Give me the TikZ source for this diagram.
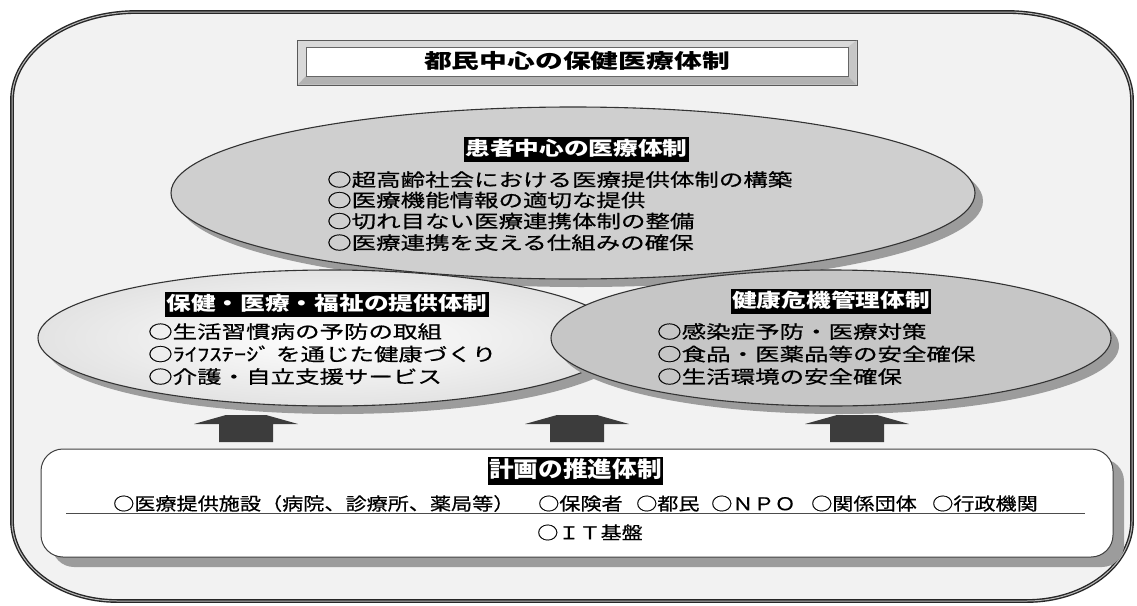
\documentclass[tikz,border=0pt]{standalone}
\usepackage{fontspec}
\newfontfamily\titlefont[FakeStretch=1.39]{Noto Sans CJK JP}
\newfontfamily\listfont[FakeStretch=1.36,FakeBold=0.6]{Noto Sans CJK JP}
\newfontfamily\headfont[FakeStretch=1.3]{Noto Sans CJK JP}
\newfontfamily\bhfont[FakeStretch=1.12]{Noto Sans CJK JP}
\newfontfamily\botfont[FakeStretch=1.2,FakeBold=0.5]{Noto Sans CJK JP}
\definecolor{framebg}{HTML}{F2F2F2}
\definecolor{topfill}{HTML}{CFCFCF}
\definecolor{rightfill}{HTML}{C6C6C6}
\definecolor{shadowc}{HTML}{9C9C9C}
\definecolor{arrowc}{HTML}{3C3C3C}
\begin{document}
\begin{tikzpicture}[x=1pt,y=-1pt,
  listtxt/.style={anchor=west,inner sep=0pt,text height=14.4pt,text depth=3.6pt,font=\listfont\fontsize{18}{21}\selectfont},
  bottxt/.style={anchor=west,inner sep=0pt,text height=14pt,text depth=3.6pt,font=\botfont\fontsize{17.6}{21}\selectfont},
  headbox/.style={fill=black,text=white,inner xsep=1pt,inner ysep=0pt,minimum height=25pt,text height=15.5pt,text depth=3.5pt,font=\headfont\bfseries\fontsize{19}{21}\selectfont},
  ellborder/.style={draw=black!80,line width=1.1pt},
  shadowfill/.style={fill=shadowc},
  uparrow/.style={fill=arrowc,draw=none}
]
\useasboundingbox (0,0) rectangle (1137,605);
% outer frame
\path[fill=framebg,draw=black!85,line width=1.4pt,double=gray!55,double distance=1pt]
  (12,100) .. controls (12,51.4) and (68,12) .. (137,12)
  -- (1007,12) .. controls (1076,12) and (1132,51.4) .. (1132,100)
  -- (1132,521) .. controls (1132,565.2) and (1085,601) .. (1027,601)
  -- (117,601) .. controls (59,601) and (12,565.2) .. (12,521) -- cycle;
% title box
\path[fill=gray!30,draw=black!65,line width=0.8pt] (297,40) rectangle (857,85);
\path[fill=gray!60] (298,84.5) -- (856.5,84.5) -- (848,76) -- (306,76) -- cycle;
\path[fill=gray!45] (856.5,40.5) -- (856.5,84.5) -- (848,76) -- (848,47) -- cycle;
\path[fill=white,draw=black!60,line width=0.7pt] (306,47) rectangle (848,76);
\node[inner sep=0pt,text height=16pt,text depth=4pt,font=\titlefont\bfseries\fontsize{20}{22}\selectfont] (title) at (577,62) {都民中心の保健医療体制};
% top ellipse
\path[shadowfill] (581,201) ellipse [x radius=402, y radius=86];
\path[fill=topfill,ellborder] (573,193) ellipse [x radius=402, y radius=86];
% left ellipse
\path[shadowfill] (338,346) ellipse [x radius=292, y radius=68];
\path[inner color=white,outer color=gray!22,ellborder] (330,338) ellipse [x radius=292, y radius=68];
% right ellipse
\path[shadowfill] (839,346) ellipse [x radius=280, y radius=68];
\path[fill=rightfill,ellborder] (831,338) ellipse [x radius=280, y radius=68];
% top texts
\node[headbox] (tophead) at (576.5,149.5) {患者中心の医療体制};
\node[listtxt] (t1) at (327,181) {○超高齢社会における医療提供体制の構築};
\node[listtxt] (t2) at (327,201.5) {○医療機能情報の適切な提供};
\node[listtxt] (t3) at (327,222.5) {○切れ目ない医療連携体制の整備};
\node[listtxt] (t4) at (327,244) {○医療連携を支える仕組みの確保};
% left texts
\node[headbox] (lefthead) at (327,304) {保健・医療・福祉の提供体制};
\node[listtxt] (l1) at (148,333) {○生活習慣病の予防の取組};
\node[listtxt] (l2) at (148,355.5) {○ﾗｲﾌｽﾃｰｼﾞ を通じた健康づくり};
\node[listtxt] (l3) at (148,378) {○介護・自立支援サービス};
% right texts
\node[headbox] (righthead) at (831,301) {健康危機管理体制};
\node[listtxt] (r1) at (657,333) {○感染症予防・医療対策};
\node[listtxt] (r2) at (657,355.5) {○食品・医薬品等の安全確保};
\node[listtxt] (r3) at (657,378) {○生活環境の安全確保};
% arrows
\foreach \cx in {246,577,857}{
  \path[uparrow] (\cx-52,424) -- (\cx-20,415) -- (\cx+20,415) -- (\cx+52,424)
    -- (\cx+27,424) -- (\cx+27,442) -- (\cx-27,442) -- (\cx-27,424) -- cycle;
}
% bottom box
\path[fill=shadowc,rounded corners=22pt] (52,459) rectangle (1124,567);
\path[fill=white,draw=black!75,line width=1pt,rounded corners=22pt] (41,449) rectangle (1113,557);
\node[fill=black,text=white,inner xsep=1pt,inner ysep=0pt,minimum height=28pt,text height=18pt,text depth=4.5pt,font=\bhfont\bfseries\fontsize{22}{24}\selectfont] (bothead) at (575.5,471) {計画の推進体制};
\node[bottxt] (b1) at (113,505) {○医療提供施設（病院、診療所、薬局等）};
\node[bottxt] (b2) at (538,505) {○保険者};
\node[bottxt] (b3) at (636,505) {○都民};
\node[bottxt] (b4) at (711,505) {○ＮＰＯ};
\node[bottxt] (b5) at (811,505) {○関係団体};
\node[bottxt] (b6) at (932,505) {○行政機関};
\coordinate (ruleL) at (66,513);
\coordinate (ruleR) at (1085,513);
\draw[black!70,line width=1pt] (ruleL) -- (ruleR);
\node[inner sep=0pt,text height=14pt,text depth=3.6pt,font=\botfont\fontsize{17.6}{21}\selectfont] (it) at (590,534) {○ＩＴ基盤};
\end{tikzpicture}
\end{document}
